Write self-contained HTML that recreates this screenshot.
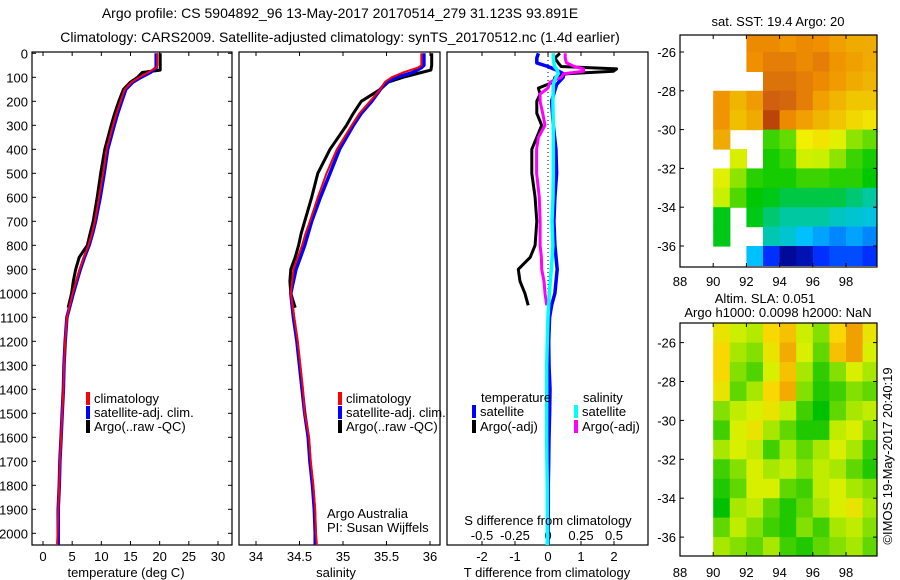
<!DOCTYPE html>
<html><head><meta charset="utf-8"><style>
html,body{margin:0;padding:0;background:#fff;}
svg{display:block;font-family:"Liberation Sans",sans-serif;}
</style></head><body>
<svg id="fig" width="900" height="580" viewBox="0 0 900 580" xmlns="http://www.w3.org/2000/svg">
<text x="340" y="18" font-size="14" text-anchor="middle">Argo profile: CS 5904892_96 13-May-2017 20170514_279 31.123S 93.891E</text>
<text x="340" y="42" font-size="14" text-anchor="middle">Climatology: CARS2009. Satellite-adjusted climatology: synTS_20170512.nc (1.4d earlier)</text>
<defs>
<clipPath id="c1"><rect x="32" y="52" width="200" height="493"/></clipPath>
<clipPath id="c2"><rect x="239" y="52" width="201" height="493"/></clipPath>
<clipPath id="c3"><rect x="447" y="52" width="201" height="493"/></clipPath>
<clipPath id="cm1"><rect x="680" y="35" width="197" height="232"/></clipPath>
<clipPath id="cm2"><rect x="680" y="323" width="197" height="233"/></clipPath>
</defs>
<g id="layer"></g>
<text x="126" y="577" font-size="13" text-anchor="middle">temperature (deg C)</text>
<text x="336" y="577" font-size="13" text-anchor="middle">salinity</text>
<text x="547" y="577" font-size="13" text-anchor="middle">T difference from climatology</text>
<text x="548" y="525" font-size="13" text-anchor="middle">S difference from climatology</text>
<text x="327" y="518" font-size="13">Argo Australia</text>
<text x="327" y="532" font-size="13">PI: Susan Wijffels</text>
<text x="778" y="26" font-size="13" text-anchor="middle">sat. SST: 19.4 Argo: 20</text>
<text x="765" y="303" font-size="13" text-anchor="middle">Altim. SLA: 0.051</text>
<text x="778" y="317" font-size="13" text-anchor="middle">Argo h1000: 0.0098 h2000: NaN</text>
<text x="0" y="0" font-size="13" text-anchor="middle" transform="translate(892,456) rotate(-90)">©IMOS 19-May-2017 20:40:19</text>
</svg>
<script>
// ---------- profile data ----------
const depthT = [0,50,60,80,100,120,150,200,250,300,400,500,600,700,750,800,850,900,1000,1100,1200,1300,1400,1500,1600,1700,1800,1900,2000,2050];
const tempClim = [19.6,19.6,19.4,18.0,16.5,15.2,14.0,13.3,12.6,12.0,10.9,10.3,9.6,8.9,8.4,7.8,7.0,6.3,5.1,4.1,3.8,3.6,3.5,3.3,3.1,2.9,2.8,2.6,2.5,2.4];
const tempSat  = [19.4,19.4,19.4,18.4,16.8,15.4,14.2,13.5,12.8,12.2,11.1,10.5,9.8,9.0,8.5,7.9,7.1,6.4,5.2,4.1,3.8,3.6,3.5,3.3,3.1,2.9,2.8,2.6,2.6,2.6];
const depthArgo = [0,50,70,80,100,120,150,200,250,300,400,500,600,700,750,800,850,900,950,1000,1060];
const tempArgo = [20.1,20.1,20.1,17.0,16.2,15.0,13.8,13.0,12.3,11.7,10.6,9.9,9.3,8.6,8.1,7.6,6.2,5.6,5.2,4.9,4.3];
const salClim = [35.90,35.90,35.86,35.69,35.56,35.48,35.43,35.31,35.19,35.10,34.93,34.81,34.71,34.62,34.57,34.53,34.48,34.43,34.40,34.44,34.48,34.51,34.54,34.56,34.61,34.63,34.66,34.68,34.69,34.70];
const salSat  = [35.93,35.93,35.90,35.80,35.62,35.50,35.43,35.33,35.21,35.12,34.96,34.85,34.74,34.64,34.60,34.56,34.51,34.46,34.40,34.43,34.47,34.50,34.53,34.56,34.60,34.62,34.65,34.67,34.68,34.68];
const salArgo = [36.02,36.02,36.01,35.90,35.69,35.52,35.43,35.21,35.12,35.04,34.85,34.71,34.64,34.56,34.52,34.49,34.45,34.40,34.39,34.40,34.45];
// differences from climatology
const depthDiff = [0,20,40,55,65,75,85,100,120,145,170,200,250,300,350,400,500,600,700,800,850,900,950,1000,1050];
const dTArgo = [0.36,0.21,0.31,0.40,2.08,1.98,0.57,0.21,0.16,-0.29,-0.24,-0.34,-0.34,-0.19,-0.34,-0.49,-0.49,-0.39,-0.34,-0.39,-0.54,-0.90,-0.85,-0.70,-0.60];
const dSArgo = [0.13,0.13,0.14,0.20,0.27,0.27,0.12,0.10,0.015,0.0,-0.06,-0.06,-0.04,-0.023,-0.073,-0.086,-0.086,-0.066,-0.06,-0.06,-0.05,-0.048,-0.03,-0.023,-0.01];
const depthSatDiff = [0,20,40,55,70,85,100,130,200,300,400,500,600,700,800,900,1000,1050,1100,1200,1300,1400,1500,1600,1700,1800,1900,2000,2050];
const dTSat = [-0.29,-0.34,-0.34,0.0,0.26,0.46,0.46,0.26,0.11,0.16,0.24,0.26,0.21,0.18,0.21,0.28,0.21,0.11,0.05,0.02,0.03,0.06,0.05,0.03,0.02,0.01,0.01,0.0,0.0];
const dSSat = [0.04,0.04,0.045,0.05,0.07,0.078,0.06,0.04,0.037,0.04,0.04,0.04,0.038,0.03,0.037,0.025,0.01,0.005,0.0,-0.005,-0.01,-0.01,-0.01,-0.01,-0.008,-0.005,-0.005,-0.005,-0.005];
// tick labels
const depthTicks = [0,100,200,300,400,500,600,700,800,900,1000,1100,1200,1300,1400,1500,1600,1700,1800,1900,2000];
const tempTicks = [0,5,10,15,20,25,30];
const salTicks = [34,34.5,35,35.5,36];
const dTTicks = [-2,-1,0,1,2];
const dSTicks = [-0.5,-0.25,0,0.25,0.5];
const lonTicks = [88,90,92,94,96,98];
const latTicks = [-26,-28,-30,-32,-34,-36];
// ---------- map data ----------
const sstLons = [88,89,90,91,92,93,94,95,96,97,98,99];
const sstLats = [-25,-26,-27,-28,-29,-30,-31,-32,-33,-34,-35,-36];
const N = null;
const sstGrid = [
[N,N,N,N,21.6,21.6,21.4,21.6,21.5,21.2,21.0,21.0],
[N,N,N,N,21.5,21.8,21.8,21.6,21.8,21.4,21.2,21.0],
[N,N,N,N,N,22.0,22.0,21.8,21.6,21.3,21.0,20.8],
[N,N,21.4,20.8,21.3,22.3,22.2,21.8,21.2,20.8,20.5,20.5],
[N,N,21.4,20.6,21.0,22.6,21.6,21.2,20.8,20.5,20.2,20.0],
[N,N,21.0,N,N,18.6,18.8,19.8,20.0,19.6,19.0,18.8],
[N,N,N,19.5,N,18.4,18.6,19.4,19.3,19.0,18.6,18.4],
[N,N,19.6,19.0,18.5,18.4,18.4,18.6,18.6,18.5,18.5,18.3],
[N,N,19.3,18.7,18.3,18.2,18.0,18.0,18.0,18.0,17.8,17.6],
[N,N,18.2,N,18.2,17.8,17.6,17.6,17.6,17.4,17.3,17.2],
[N,N,18.2,N,N,17.5,17.3,17.0,16.8,16.6,16.8,16.6],
[N,N,N,N,17.0,16.0,15.2,15.4,16.0,16.2,16.2,16.0]];
const slaLons = [90,91,92,93,94,95,96,97,98,99];
const slaLats = [-25,-26,-27,-28,-29,-30,-31,-32,-33,-34,-35,-36];
const slaGrid = [
[0.08,0.05,0.03,0.10,0.12,0.05,0.00,0.10,0.16,0.08],
[0.10,0.02,0.00,0.08,0.14,0.06,-0.02,0.12,0.15,0.06],
[0.10,0.00,-0.03,0.06,0.12,0.02,-0.05,0.00,0.06,0.02],
[0.08,-0.02,0.02,0.10,0.14,0.00,-0.06,-0.04,0.00,-0.02],
[0.00,0.04,0.06,0.08,0.04,-0.04,-0.08,-0.02,0.02,0.04],
[-0.04,0.06,0.08,0.02,-0.02,-0.06,-0.06,0.04,0.06,0.00],
[0.02,0.06,0.04,-0.04,0.02,-0.02,0.02,0.06,0.02,-0.04],
[-0.04,0.00,0.06,0.02,0.04,0.00,0.04,0.02,-0.02,-0.06],
[-0.06,-0.02,0.06,0.06,-0.02,-0.04,0.04,0.06,0.02,0.00],
[-0.08,0.02,0.04,-0.02,-0.06,-0.02,0.02,0.06,0.08,0.02],
[-0.02,0.04,0.00,-0.04,-0.06,0.00,-0.04,0.02,0.04,0.00],
[0.02,0.00,-0.02,0.02,-0.04,-0.06,-0.02,0.00,0.02,-0.02]];

// ---------- scales ----------
const yD = d => 53.3 + 0.24*d;
const xT = t => 43 + 5.833*t;
const xS = s => 256 + 87*(s-34);
const xdT = v => 548 + 33*v;
const xdS = v => 548 + 132*v;
const mxLon = lon => 680 + (lon-88)*16.6;
const m1yLat = lat => 52 + (-26-lat)*19.4;
const m2yLat = lat => 342.6 + (-26-lat)*19.45;

const NS = "http://www.w3.org/2000/svg";
const layer = document.getElementById('layer');
function mk(tag, attrs, parent){
  const e = document.createElementNS(NS, tag);
  for (const k in attrs) e.setAttribute(k, attrs[k]);
  (parent||layer).appendChild(e);
  return e;
}
function linePath(depths, vals, fx){
  let d = '';
  for (let i=0;i<depths.length;i++){
    const x = fx(vals[i]).toFixed(1), y = yD(depths[i]).toFixed(1);
    d += (i===0?'M':' L')+x+' '+y;
  }
  return d;
}
function rgb(c){ return 'rgb('+c.map(Math.round).join(',')+')'; }
function lerpColor(stops, v){
  if (v<=stops[0][0]) return rgb(stops[0][1]);
  for (let i=1;i<stops.length;i++){
    if (v<=stops[i][0]){
      const a=stops[i-1], b=stops[i], t=(v-a[0])/(b[0]-a[0]);
      return rgb([0,1,2].map(k=>a[1][k]+(b[1][k]-a[1][k])*t));
    }
  }
  return rgb(stops[stops.length-1][1]);
}
const sstStops = [[15,[0,0,127]],[16,[0,48,255]],[17,[0,192,255]],[17.6,[0,200,160]],[18.3,[0,200,0]],[19.3,[200,240,0]],[19.8,[240,240,0]],[20.6,[240,192,0]],[21.5,[240,144,0]],[22.3,[208,96,16]],[23,[160,32,0]]];
const slaStops = [[-0.08,[0,192,0]],[-0.02,[96,216,0]],[0.02,[168,232,0]],[0.06,[216,240,0]],[0.10,[248,216,0]],[0.15,[240,160,0]]];

// ---------- panels ----------
const panels = [[32,'panel-temperature'],[239,'panel-salinity'],[447,'panel-difference']];
panels.forEach(p=>{
  const r = mk('rect',{x:p[0],y:52,width:p[0]===32?200:201,height:493,fill:'none',stroke:'#000','stroke-width':1.2});
  
  
});
depthTicks.forEach(d=>{
  const y = yD(d);
  const t = mk('text',{x:28,y:y+5,'font-size':13,'text-anchor':'end'});
  t.textContent = d;
  
  
  mk('line',{x1:32,x2:36,y1:y,y2:y,stroke:'#000'});
  mk('line',{x1:228,x2:232,y1:y,y2:y,stroke:'#000'});
});
function xTicks(vals, fx, labelY, name){
  vals.forEach(v=>{
    const x = fx(v);
    mk('line',{x1:x,x2:x,y1:545,y2:541,stroke:'#000'});
    mk('line',{x1:x,x2:x,y1:52,y2:56,stroke:'#000'});
    const t = mk('text',{x:x,y:labelY,'font-size':13,'text-anchor':'middle'});
    t.textContent = v;
    
    
  });
}
xTicks(tempTicks, xT, 561, 'x-tick-label-temperature');
xTicks(salTicks, xS, 561, 'x-tick-label-salinity');
xTicks(dTTicks, xdT, 561, 'x-tick-label-t-diff');
dSTicks.forEach(v=>{
  const t = mk('text',{x:xdS(v),y:540,'font-size':13,'text-anchor':'middle'});
  t.textContent = v;
  
  
});

function line(depths, vals, fx, color, w, clip, name){
  const p = mk('path',{d:linePath(depths, vals, fx),fill:'none',stroke:color,'stroke-width':w,'stroke-linejoin':'round','clip-path':'url(#'+clip+')'});
  
  
}
line(depthArgo, tempArgo, xT, '#000', 3, 'c1', 'argo-temperature-line');
line(depthT, tempSat, xT, '#0000ff', 3.5, 'c1', 'satellite-temperature-line');
line(depthT, tempClim, xT, '#ff0000', 2, 'c1', 'climatology-temperature-line');
line(depthArgo, salArgo, xS, '#000', 3, 'c2', 'argo-salinity-line');
line(depthT, salSat, xS, '#0000ff', 3.5, 'c2', 'satellite-salinity-line');
line(depthT, salClim, xS, '#ff0000', 2, 'c2', 'climatology-salinity-line');
const zl = mk('line',{x1:548,x2:548,y1:52,y2:545,stroke:'#000','stroke-width':1,'stroke-dasharray':'1,3'});


line(depthDiff, dTArgo, xdT, '#000', 3, 'c3', 'argo-t-diff-line');
line(depthSatDiff, dTSat, xdT, '#0000ff', 3.5, 'c3', 'satellite-t-diff-line');
line(depthDiff, dSArgo, xdS, '#ff00ff', 3, 'c3', 'argo-s-diff-line');
line(depthSatDiff, dSSat, xdS, '#00ffff', 3.5, 'c3', 'satellite-s-diff-line');

function legend(x, y, color, label, name){
  const g = mk('g',{});
  
  
  mk('rect',{x:x,y:y-11,width:4,height:13,fill:color},g);
  const t = mk('text',{x:x+8,y:y,'font-size':13},g);
  t.textContent = label;
}
legend(86,403,'#ff0000','climatology','legend-entry-climatology');
legend(86,417,'#0000ff','satellite-adj. clim.','legend-entry-satellite');
legend(86,431,'#000','Argo(..raw -QC)','legend-entry-argo');
legend(338,403,'#ff0000','climatology','legend-entry-climatology');
legend(338,417,'#0000ff','satellite-adj. clim.','legend-entry-satellite');
legend(338,431,'#000','Argo(..raw -QC)','legend-entry-argo');
const lt1 = mk('text',{x:481,y:402,'font-size':13}); lt1.textContent='temperature';


const lt2 = mk('text',{x:583,y:402,'font-size':13}); lt2.textContent='salinity';


legend(472,416,'#0000ff','satellite','legend-entry-t-satellite');
legend(472,431,'#000','Argo(-adj)','legend-entry-t-argo');
legend(574,416,'#00ffff','satellite','legend-entry-s-satellite');
legend(574,431,'#ff00ff','Argo(-adj)','legend-entry-s-argo');

// ---------- maps ----------
function drawMap(grid, lons, lats, fy, stops, clip, name){
  const g = mk('g',{'clip-path':'url(#'+clip+')'});
  
  
  grid.forEach((row,i)=>row.forEach((v,j)=>{
    if (v===null) return;
    const x0 = mxLon(lons[j]), x1 = mxLon(lons[j]+1);
    const y0 = fy(lats[i]), y1 = fy(lats[i]-1);
    const c = mk('rect',{x:x0.toFixed(1),y:y0.toFixed(1),width:(x1-x0+0.6).toFixed(1),height:(y1-y0+0.6).toFixed(1),fill:lerpColor(stops,v)},g);
    
    
  }));
}
drawMap(sstGrid, sstLons, sstLats, m1yLat, sstStops, 'cm1', 'sst-map');
drawMap(slaGrid, slaLons, slaLats, m2yLat, slaStops, 'cm2', 'sla-map');
function mapAxes(top, h, fy, labelY, name){
  const r = mk('rect',{x:680,y:top,width:197,height:h,fill:'none',stroke:'#000','stroke-width':1.2});
  
  
  latTicks.forEach(lat=>{
    const y = fy(lat);
    mk('line',{x1:680,x2:684,y1:y,y2:y,stroke:'#000'});
    mk('line',{x1:873,x2:877,y1:y,y2:y,stroke:'#000'});
    const t = mk('text',{x:676,y:y+5,'font-size':13,'text-anchor':'end'});
    t.textContent = lat;
    
    
  });
  lonTicks.forEach(lon=>{
    const x = mxLon(lon);
    mk('line',{x1:x,x2:x,y1:top+h,y2:top+h-4,stroke:'#000'});
    mk('line',{x1:x,x2:x,y1:top,y2:top+4,stroke:'#000'});
    const t = mk('text',{x:x,y:labelY,'font-size':13,'text-anchor':'middle'});
    t.textContent = lon;
    
    
  });
}
mapAxes(35, 232, m1yLat, 286, 'sst-map');
mapAxes(323, 233, m2yLat, 577, 'sla-map');
</script>
</body></html>
